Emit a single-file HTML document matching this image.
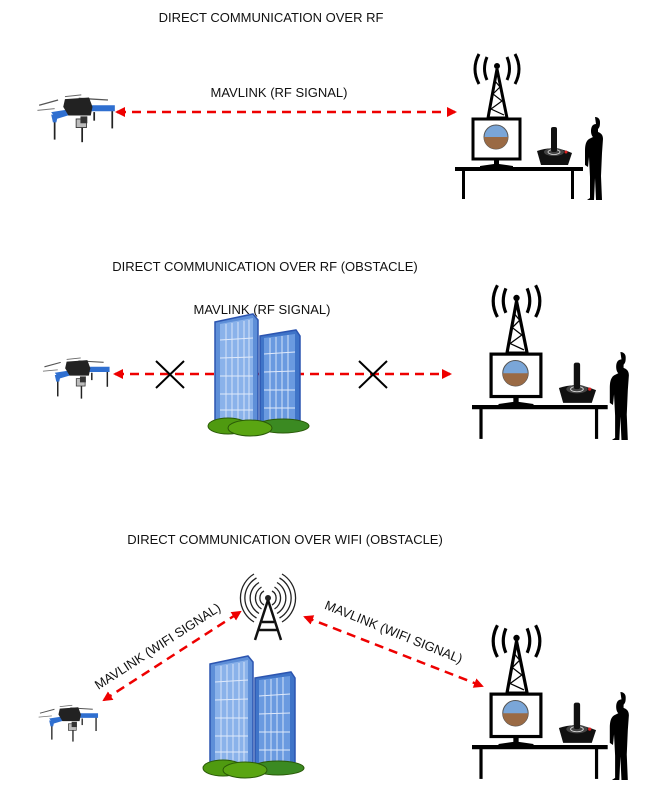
<!DOCTYPE html>
<html><head><meta charset="utf-8"><style>
html,body{margin:0;padding:0;background:#fff}
svg{display:block}
text{font-family:"Liberation Sans",sans-serif;font-size:13px;fill:#111}
</style></head><body>
<svg width="652" height="798" viewBox="0 0 652 798" xmlns="http://www.w3.org/2000/svg">
<defs>
<g id="drone">
 <line x1="6" y1="20" x2="28" y2="14" stroke="#555" stroke-width="1.5"/>
 <line x1="4" y1="26" x2="24" y2="24" stroke="#777" stroke-width="1.2"/>
 <line x1="52" y1="12" x2="86" y2="14" stroke="#555" stroke-width="1.5"/>
 <line x1="36" y1="10" x2="55" y2="8" stroke="#666" stroke-width="1.2"/>
 <line x1="24" y1="32" x2="24" y2="60" stroke="#222" stroke-width="2"/>
 <line x1="56" y1="34" x2="56" y2="63" stroke="#222" stroke-width="2"/>
 <line x1="91" y1="25" x2="91" y2="47" stroke="#222" stroke-width="2"/>
 <line x1="70" y1="28" x2="70" y2="38" stroke="#222" stroke-width="2"/>
 <path d="M20 28 L46 24 L46 30 L26 36 Z" fill="#2f6fd0"/>
 <path d="M58 20 L94 20 L94 27 L58 27 Z" fill="#2f6fd0"/>
 <path d="M20 31 L28 31 L26 40 L22 40 Z" fill="#2f6fd0"/>
 <path d="M36 13 L64 11 L68 22 L66 32 L40 32 L34 22 Z" fill="#222"/>
 <rect x="49" y="36" width="12" height="10" fill="#bbb" stroke="#333"/>
 <rect x="54" y="33" width="8" height="8" fill="#333"/>
</g>
<g id="station">
 <g fill="none" stroke="#000" stroke-width="3">
  <path d="M32 -110 Q27 -98 32 -87"/><path d="M24 -113 Q16 -98 24 -83"/>
  <path d="M52 -110 Q57 -98 52 -87"/><path d="M60 -113 Q68 -98 60 -83"/>
 </g>
 <circle cx="42" cy="-101" r="3" fill="#000"/>
 <path d="M42 -98 L33 -49 L52 -49 Z" fill="none" stroke="#000" stroke-width="3"/>
 <path d="M40 -86 L45 -80 L38 -73 L47 -66 L36 -58 L49 -52" fill="none" stroke="#000" stroke-width="1.2"/>
 <rect x="18" y="-48" width="47" height="40" fill="#fff" stroke="#000" stroke-width="3"/>
 <circle cx="41" cy="-30" r="12" fill="#7aa6d8" stroke="#555"/>
 <path d="M29 -30 A12 12 0 0 0 53 -30 Z" fill="#9a6a44"/>
 <path d="M39 -7 L44 -7 L44 -3 L58 -1 L58 1 L25 1 L25 -1 L39 -3 Z" fill="#000"/>
 <path d="M82 -16 Q99 -22 117 -14 L113 -2 L86 -2 Z" fill="#111"/>
 <ellipse cx="99" cy="-15" rx="10" ry="4" fill="#444"/>
 <ellipse cx="99" cy="-15" rx="6" ry="2.5" fill="none" stroke="#ddd" stroke-width="0.8"/>
 <rect x="96" y="-40" width="6" height="25" rx="2" fill="#111"/>
 <circle cx="111" cy="-15" r="1.5" fill="#d22"/>
 <rect x="0" y="0" width="128" height="4" fill="#000"/>
 <rect x="7" y="3" width="3" height="29" fill="#000"/>
 <rect x="116" y="3" width="3" height="29" fill="#000"/>
 <path d="M141 -43 c-4 0 -5 4 -5 7 c0 3 1 5 2 6 l-4 2 c-3 2 -4 6 -4 12 l0 14 l3 2 l1 -10 l1 20 l0 21 l-3 2 l7 0 l1 -22 l1 22 l6 0 l-1 -24 l1 -23 l1 -14 c0 -4 -2 -6 -5 -7 l0 -3 c2 -2 2 -4 2 -7 c0 -3 -2 -5 -5 -5 z" fill="#000"/>
</g>
<g id="bldg">
 <path d="M17 12 L55 4 L60 10 L60 112 L17 112 Z" fill="#5e8fd8" stroke="#2c55b0" stroke-width="1.5"/>
 <path d="M22 14 L55 8 L55 112 L22 112 Z" fill="#8ab2ea"/>
 <path d="M62 26 L98 20 L102 26 L102 116 L62 116 Z" fill="#3f74c8" stroke="#2c55b0" stroke-width="1.5"/>
 <path d="M66 28 L97 24 L97 116 L66 116 Z" fill="#6a9ae0"/>
 <g stroke="#dfe9fa" stroke-width="0.9">
  <line x1="28" y1="14" x2="28" y2="110"/><line x1="34" y1="13" x2="34" y2="110"/><line x1="40" y1="12" x2="40" y2="110"/><line x1="46" y1="11" x2="46" y2="110"/><line x1="51" y1="10" x2="51" y2="110"/>
  <line x1="72" y1="28" x2="72" y2="114"/><line x1="78" y1="27" x2="78" y2="114"/><line x1="84" y1="26" x2="84" y2="114"/><line x1="90" y1="25" x2="90" y2="114"/>
  <line x1="22" y1="30" x2="55" y2="28"/><line x1="22" y1="48" x2="55" y2="47"/><line x1="22" y1="66" x2="55" y2="66"/><line x1="22" y1="84" x2="55" y2="84"/><line x1="22" y1="100" x2="55" y2="100"/>
  <line x1="66" y1="44" x2="97" y2="42"/><line x1="66" y1="62" x2="97" y2="61"/><line x1="66" y1="80" x2="97" y2="80"/><line x1="66" y1="98" x2="97" y2="98"/>
 </g>
 <ellipse cx="30" cy="116" rx="20" ry="8" fill="#4f9a10" stroke="#2a5a08"/>
 <ellipse cx="85" cy="116" rx="26" ry="7" fill="#3b8a22" stroke="#2a5a08"/>
 <ellipse cx="52" cy="118" rx="22" ry="8" fill="#5aa512" stroke="#2a5a08"/>
</g>
<marker id="ah" markerWidth="10" markerHeight="10" refX="8" refY="5" orient="auto-start-reverse" markerUnits="userSpaceOnUse">
 <path d="M0 0 L10 5 L0 10 Z" fill="#e00"/>
</marker>
</defs>

<text x="271" y="22" text-anchor="middle">DIRECT COMMUNICATION OVER RF</text>
<use href="#drone" transform="translate(34 88) scale(0.86)"/>
<text x="279" y="97" text-anchor="middle">MAVLINK (RF SIGNAL)</text>
<line x1="117" y1="112" x2="455" y2="112" stroke="#e00" stroke-width="2.5" stroke-dasharray="9,6" marker-start="url(#ah)" marker-end="url(#ah)"/>
<use href="#station" x="455" y="167"/>

<text x="265" y="271" text-anchor="middle">DIRECT COMMUNICATION OVER RF (OBSTACLE)</text>
<use href="#drone" transform="translate(40 352) scale(0.74)"/>
<text x="262" y="314" text-anchor="middle">MAVLINK (RF SIGNAL)</text>
<line x1="115" y1="374" x2="450" y2="374" stroke="#e00" stroke-width="2.5" stroke-dasharray="9,6" marker-start="url(#ah)" marker-end="url(#ah)"/>
<use href="#bldg" x="198" y="310"/>
<path d="M156 361 L184 388 M184 361 L156 388 M359 361 L387 388 M387 361 L359 388" stroke="#000" stroke-width="2"/>
<use href="#station" transform="translate(472 405) scale(1.06)"/>

<text x="285" y="544" text-anchor="middle">DIRECT COMMUNICATION OVER WIFI (OBSTACLE)</text>
<g fill="none" stroke="#222" stroke-width="1.3">
 <path d="M264 591 A8 8 0 0 0 264 605 M261.5 587 A13 13 0 0 0 261.5 609 M259 582.5 A18 18 0 0 0 259 613.5 M256.5 578 A23 23 0 0 0 256.5 618 M254 574 A28 28 0 0 0 254 622"/>
 <path d="M272 591 A8 8 0 0 1 272 605 M274.5 587 A13 13 0 0 1 274.5 609 M277 582.5 A18 18 0 0 1 277 613.5 M279.5 578 A23 23 0 0 1 279.5 618 M282 574 A28 28 0 0 1 282 622"/>
</g>
<circle cx="268" cy="598" r="3" fill="#222"/>
<path d="M268 600 L255 640 M268 600 L281 640 M262 622 L274 622 M259 630 L277 630" stroke="#111" stroke-width="2.5" fill="none"/>
<use href="#bldg" x="193" y="652"/>
<use href="#drone" transform="translate(36 700) scale(0.66)"/>
<line x1="104" y1="700" x2="240" y2="612" stroke="#e00" stroke-width="2.5" stroke-dasharray="9,6" marker-start="url(#ah)" marker-end="url(#ah)"/>
<line x1="305" y1="617" x2="482" y2="686" stroke="#e00" stroke-width="2.5" stroke-dasharray="9,6" marker-start="url(#ah)" marker-end="url(#ah)"/>
<text transform="translate(160 650) rotate(-33)" text-anchor="middle" font-size="12">MAVLINK (WIFI SIGNAL)</text>
<text transform="translate(392 636) rotate(22)" text-anchor="middle" font-size="12">MAVLINK (WIFI SIGNAL)</text>
<use href="#station" transform="translate(472 745) scale(1.06)"/>
</svg>
</body></html>
